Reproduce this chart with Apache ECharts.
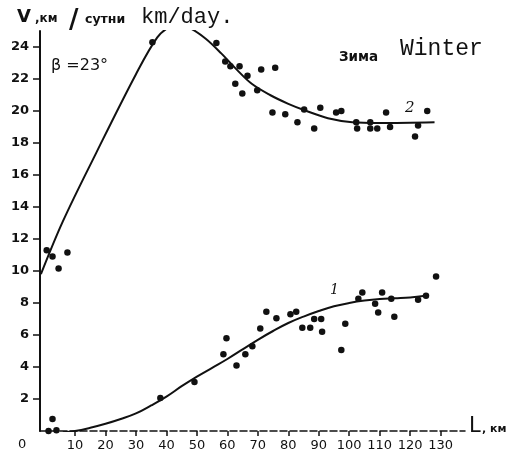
<!DOCTYPE html>
<html>
<head>
<meta charset="utf-8">
<script src="https://cdn.jsdelivr.net/npm/echarts@6/dist/echarts.min.js"></script>
<style>html,body{margin:0;padding:0;background:#fff}#c{width:514px;height:456px}</style>
</head>
<body>
<div id="c"></div>
<script>
// Curve 2 (upper) observations
const pts2X = [0.7, 2.6, 4.6, 7.5, 35.4, 56.4, 59.3, 61.0, 64.0, 66.6, 62.6, 64.9, 69.8, 71.1, 75.7, 74.8, 79.0, 83.0, 85.2, 88.5, 90.5, 95.7, 97.4, 102.3, 102.6, 106.9, 106.9, 109.2, 112.1, 113.4, 122.6, 121.6, 125.6];
const pts2Y = [11.3, 10.9, 10.15, 11.15, 24.3, 24.25, 23.1, 22.8, 22.8, 22.2, 21.7, 21.1, 21.3, 22.6, 22.7, 19.9, 19.8, 19.3, 20.1, 18.9, 20.2, 19.9, 20.0, 19.3, 18.9, 19.3, 18.9, 18.9, 19.9, 19.0, 19.1, 18.4, 20.0];
// Curve 2 fitted line
const curve2X = [-1.2, 6, 17, 30, 37, 41, 44, 48, 53, 58, 63, 68, 74, 80, 86, 93, 101, 110, 128];
const curve2Y = [9.8, 13.1, 17.4, 22.3, 24.6, 25.25, 25.35, 25.15, 24.5, 23.6, 22.6, 21.7, 21.0, 20.45, 20.0, 19.55, 19.3, 19.25, 19.3];
// Curve 1 (lower) observations
const pts1X = [1.3, 2.6, 3.9, 38.0, 49.2, 58.7, 59.7, 63.0, 65.9, 68.2, 70.8, 72.8, 76.1, 80.7, 82.6, 84.6, 87.2, 88.5, 90.8, 91.1, 97.4, 98.7, 103.0, 104.3, 108.5, 109.5, 110.8, 113.8, 114.8, 122.6, 125.2, 128.5];
const pts1Y = [0.0, 0.75, 0.05, 2.07, 3.07, 4.8, 5.8, 4.1, 4.8, 5.3, 6.4, 7.45, 7.05, 7.3, 7.45, 6.45, 6.45, 7.0, 7.0, 6.2, 5.07, 6.7, 8.27, 8.65, 7.96, 7.4, 8.65, 8.27, 7.14, 8.2, 8.46, 9.65];
// Curve 1 fitted line
const curve1X = [6, 10, 15, 20, 25, 30, 35, 40, 45, 50, 55, 60, 65, 70, 75, 80, 85, 90, 95, 100, 105, 110, 115, 120, 125];
const curve1Y = [-0.08, 0, 0.2, 0.45, 0.75, 1.1, 1.6, 2.15, 2.8, 3.4, 3.95, 4.5, 5.1, 5.7, 6.25, 6.75, 7.15, 7.5, 7.8, 8.0, 8.15, 8.25, 8.3, 8.35, 8.45];
// Tick labels
const xTicks = [10, 20, 30, 40, 50, 60, 70, 80, 90, 100, 110, 120, 130];
const yTicks = [2, 4, 6, 8, 10, 12, 14, 16, 18, 20, 22, 24];

const zip = (a, b) => a.map((v, i) => [v, b[i]]);
const ink = '#111';
const chart = echarts.init(document.getElementById('c'));
chart.setOption({
  backgroundColor: '#fff',
  animation: false,
  grid: { left: 40, right: 49, top: 31, bottom: 25 },
  xAxis: {
    type: 'value', min: -1.5, max: 138,
    splitLine: { show: false },
    axisLine: { onZero: false, lineStyle: { color: ink, width: 1.5, type: [7, 3] } },
    axisTick: { length: 5, lineStyle: { color: ink, width: 1.5 }, customValues: xTicks },
    axisLabel: { customValues: xTicks, color: ink, fontFamily: 'DejaVu Sans', fontSize: 13, margin: 8 }
  },
  yAxis: {
    type: 'value', min: 0, max: 25,
    splitLine: { show: false },
    axisLine: { onZero: false, lineStyle: { color: ink, width: 2 } },
    axisTick: { length: 7, lineStyle: { color: ink, width: 1.5 }, customValues: yTicks },
    axisLabel: { customValues: yTicks, color: ink, fontFamily: 'DejaVu Sans', fontWeight: 'bold', fontSize: 13, margin: 11 }
  },
  series: [
    { type: 'line', data: zip(curve2X, curve2Y), smooth: 0.35, showSymbol: false, lineStyle: { color: ink, width: 2 } },
    { type: 'line', data: zip(curve1X, curve1Y), smooth: 0.4, showSymbol: false, lineStyle: { color: ink, width: 2 } },
    { type: 'scatter', data: zip(pts2X, pts2Y), symbolSize: 6.5, itemStyle: { color: ink, opacity: 1 } },
    { type: 'scatter', data: zip(pts1X, pts1Y), symbolSize: 6.5, itemStyle: { color: ink, opacity: 1 } }
  ],
  graphic: [
    { type: 'text', left: 17, top: 8, style: { text: 'V', font: 'bold 18px "DejaVu Sans"', fill: ink } },
    { type: 'text', left: 35, top: 13, style: { text: ',км', font: 'bold 12px "DejaVu Sans"', fill: ink } },
    { type: 'text', left: 69, top: 8, style: { text: '/', font: 'bold 26px "DejaVu Sans"', fill: ink } },
    { type: 'text', left: 85, top: 13, style: { text: 'сутни', font: 'bold 12.5px "DejaVu Sans"', fill: ink } },
    { type: 'text', left: 141, top: 6, style: { text: 'km/day.', font: '22px "Liberation Mono"', fill: ink } },
    { type: 'text', left: 51, top: 58, style: { text: 'β =23°', font: '16px "DejaVu Sans"', fill: ink } },
    { type: 'text', left: 339, top: 50, style: { text: 'Зима', font: 'bold 13.5px "DejaVu Sans"', fill: ink } },
    { type: 'text', left: 400, top: 37, style: { text: 'Winter', font: '23px "Liberation Mono"', fill: ink } },
    { type: 'text', left: 405, top: 101, style: { text: '2', font: 'italic 15px "DejaVu Serif"', fill: ink } },
    { type: 'text', left: 330, top: 283, style: { text: '1', font: 'italic 14px "DejaVu Serif"', fill: ink } },
    { type: 'text', left: 469, top: 416, style: { text: 'L', font: '21px "DejaVu Sans"', fill: ink } },
    { type: 'text', left: 482, top: 424, style: { text: ', км', font: 'bold 11px "DejaVu Sans"', fill: ink } },
    { type: 'text', left: 18, top: 438, style: { text: '0', font: '13px "DejaVu Sans"', fill: ink } }
  ]
});
</script>
</body>
</html>
